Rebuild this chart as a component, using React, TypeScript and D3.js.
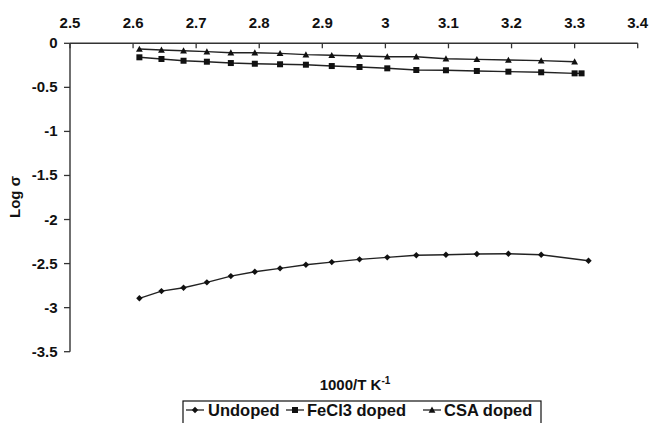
import React from "react";
import * as d3 from "d3";

const xTicks = [2.5, 2.6, 2.7, 2.8, 2.9, 3.0, 3.1, 3.2, 3.3, 3.4];
const yTicks = [0, -0.5, -1, -1.5, -2, -2.5, -3, -3.5];

const undopedX = [2.61, 2.645, 2.68, 2.717, 2.755, 2.793, 2.833, 2.874, 2.915, 2.959, 3.003, 3.049, 3.096, 3.145, 3.195, 3.247, 3.322];
const undopedY = [-2.894, -2.812, -2.774, -2.713, -2.642, -2.593, -2.554, -2.513, -2.483, -2.452, -2.429, -2.406, -2.4, -2.392, -2.388, -2.4, -2.468];

const fecl3X = [2.61, 2.645, 2.68, 2.717, 2.755, 2.793, 2.833, 2.874, 2.915, 2.959, 3.003, 3.049, 3.096, 3.145, 3.195, 3.247, 3.3, 3.311];
const fecl3Y = [-0.159, -0.178, -0.198, -0.209, -0.224, -0.232, -0.238, -0.243, -0.258, -0.269, -0.284, -0.303, -0.306, -0.314, -0.322, -0.329, -0.341, -0.341];

const csaX = [2.61, 2.645, 2.68, 2.717, 2.755, 2.793, 2.833, 2.874, 2.915, 2.959, 3.003, 3.049, 3.096, 3.145, 3.195, 3.247, 3.3];
const csaY = [-0.065, -0.076, -0.084, -0.095, -0.107, -0.107, -0.114, -0.129, -0.136, -0.144, -0.152, -0.152, -0.175, -0.182, -0.19, -0.197, -0.209];

const seriesNames = ["Undoped", "FeCl3 doped", "CSA doped"];

const FONT = "'Liberation Sans', Arial, sans-serif";

function Marker({ kind, x, y }: { kind: string; x: number; y: number }) {
  if (kind === "diamond") {
    const r = 3.2;
    return <path d={`M${x},${y - r}L${x + r},${y}L${x},${y + r}L${x - r},${y}Z`} fill="#111" />;
  }
  if (kind === "square") {
    const s = 6;
    return <rect x={x - s / 2} y={y - s / 2} width={s} height={s} fill="#111" />;
  }
  const r = 3.4;
  return <path d={`M${x},${y - r}L${x + r},${y + r * 0.8}L${x - r},${y + r * 0.8}Z`} fill="#111" />;
}

export default function App() {
  const x = d3.scaleLinear().domain([2.5, 3.4]).range([70, 637.7]);
  const y = d3.scaleLinear().domain([-3.5, 0]).range([351.7, 43.3]);

  const series = [
    { name: seriesNames[0], xs: undopedX, ys: undopedY, kind: "diamond" },
    { name: seriesNames[1], xs: fecl3X, ys: fecl3Y, kind: "square" },
    { name: seriesNames[2], xs: csaX, ys: csaY, kind: "triangle" },
  ];

  const line = d3
    .line<[number, number]>()
    .x((d) => x(d[0]))
    .y((d) => y(d[1]));

  const legendItems = [
    { kind: "diamond", lx: 186, tx: 208, name: seriesNames[0] },
    { kind: "square", lx: 286, tx: 307, name: seriesNames[1] },
    { kind: "triangle", lx: 423, tx: 444, name: seriesNames[2] },
  ];

  return (
    <svg
      width={652}
      height={423}
      style={{ position: "absolute", left: 0, top: 0, background: "#fff" }}
      fontFamily={FONT}
    >
      <rect width={652} height={423} fill="#fff" />
      {/* axes */}
      <line x1={x(2.5)} x2={x(3.4)} y1={y(0)} y2={y(0)} stroke="#333" strokeWidth={1.4} />
      <line x1={x(2.5)} x2={x(2.5)} y1={y(0)} y2={y(-3.5)} stroke="#333" strokeWidth={1.4} />
      {xTicks.map((t) => (
        <g key={"xt" + t}>
          <line x1={x(t)} x2={x(t)} y1={y(0)} y2={y(0) + 5} stroke="#333" strokeWidth={1.3} />
          <text x={x(t)} y={28} textAnchor="middle" fontSize={15} fontWeight="bold" fill="#111">
            {String(t)}
          </text>
        </g>
      ))}
      {yTicks.map((t) => (
        <g key={"yt" + t}>
          <line x1={x(2.5) - 6} x2={x(2.5)} y1={y(t)} y2={y(t)} stroke="#333" strokeWidth={1.3} />
          <text x={57.5} y={y(t) + 5} textAnchor="end" fontSize={15} fontWeight="bold" fill="#111">
            {String(t)}
          </text>
        </g>
      ))}
      {/* series */}
      {series.map((s) => {
        const pts: [number, number][] = s.xs.map((v, i) => [v, s.ys[i]]);
        return (
          <g key={s.name}>
            <path d={line(pts) || ""} fill="none" stroke="#222" strokeWidth={1.4} />
            {pts.map((p, i) => (
              <Marker key={i} kind={s.kind} x={x(p[0])} y={y(p[1])} />
            ))}
          </g>
        );
      })}
      {/* axis titles */}
      <text x={355} y={390} textAnchor="middle" fontSize={15} fontWeight="bold" fill="#111">
        1000/T K
        <tspan dy={-6} fontSize={10}>-1</tspan>
      </text>
      <text
        transform={`translate(20,197) rotate(-90)`}
        textAnchor="middle"
        fontSize={15}
        fontWeight="bold"
        fill="#111"
      >
        Log σ
      </text>
      {/* legend */}
      <rect x={183} y={401} width={358} height={30} fill="#fff" stroke="#111" strokeWidth={1.2} />
      {legendItems.map((it) => (
        <g key={it.name}>
          <line x1={it.lx} x2={it.lx + 18} y1={410} y2={410} stroke="#222" strokeWidth={1.3} />
          <Marker kind={it.kind} x={it.lx + 9} y={410} />
          <text x={it.tx} y={416} fontSize={16.5} fontWeight="bold" fill="#111">
            {it.name}
          </text>
        </g>
      ))}
    </svg>
  );
}
